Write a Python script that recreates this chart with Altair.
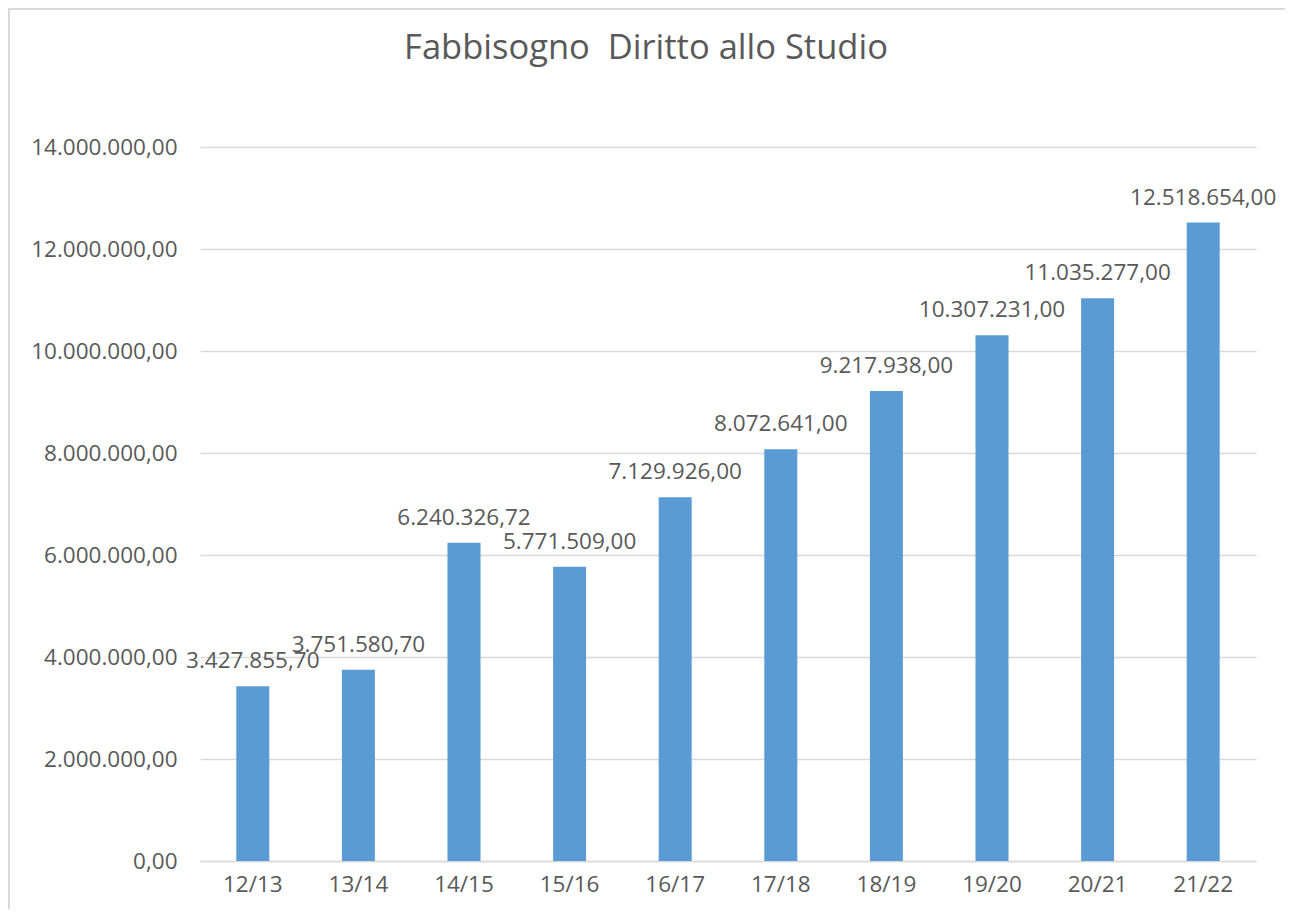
import altair as alt
import pandas as pd

years = ["12/13", "13/14", "14/15", "15/16", "16/17", "17/18", "18/19", "19/20", "20/21", "21/22"]
values = [3427855.70, 3751580.70, 6240326.72, 5771509.00, 7129926.00,
          8072641.00, 9217938.00, 10307231.00, 11035277.00, 12518654.00]
y_ticks = [0, 2000000, 4000000, 6000000, 8000000, 10000000, 12000000, 14000000]

df = pd.DataFrame({"anno": years, "valore": values})

FONT = "Open Sans"
GREY = "#595959"
FS = 22.5

base = alt.Chart(df)

x_enc = alt.X("anno:N", sort=years, title=None,
              scale=alt.Scale(paddingInner=0.6875, paddingOuter=0.34375),
              axis=alt.Axis(labelAngle=0, labelFontSize=FS, labelColor=GREY, labelFont=FONT,
                            labelPadding=12, ticks=False, domainColor="#d9d9d9", domainWidth=1.5))
y_enc = alt.Y("valore:Q", title=None,
              scale=alt.Scale(domain=[0, 14000000], nice=False),
              axis=alt.Axis(values=y_ticks, format=",.2f", labelFontSize=FS, labelColor=GREY,
                            labelFont=FONT, labelPadding=23, ticks=False, domain=False,
                            gridColor="#d9d9d9", gridWidth=1.5))

bars = base.mark_bar(color="#5B9BD5").encode(x=x_enc, y=y_enc)
labels = base.mark_text(dy=-25, fontSize=FS, font=FONT, color=GREY).encode(
    x=alt.X("anno:N", sort=years),
    y="valore:Q",
    text=alt.Text("valore:Q", format=",.2f"),
)
frame = alt.Chart(df).mark_rect(fill=None, stroke="#d9d9d9", strokeWidth=2).encode(
    x=alt.value(-191), x2=alt.value(1086), y=alt.value(-138), y2=alt.value(800)
)

chart = alt.layer(frame, bars, labels).properties(
    width=1056, height=714,
    padding={"left": 192, "top": 139, "right": 29, "bottom": 48},
    autosize=alt.AutoSizeParams(type="none"),
    title=alt.TitleParams("Fabbisogno\u00a0 Diritto allo Studio", fontSize=34.5, font=FONT,
                          fontWeight="normal", color=GREY, offset=-58, anchor="middle", dx=-82),
).configure(
    locale=alt.Locale(number=alt.NumberLocale(decimal=",", thousands=".", grouping=[3],
                                              currency=["€", ""]))
).configure_view(stroke=None)

chart.save("out.html", embed_options={"renderer": "svg", "actions": False})
